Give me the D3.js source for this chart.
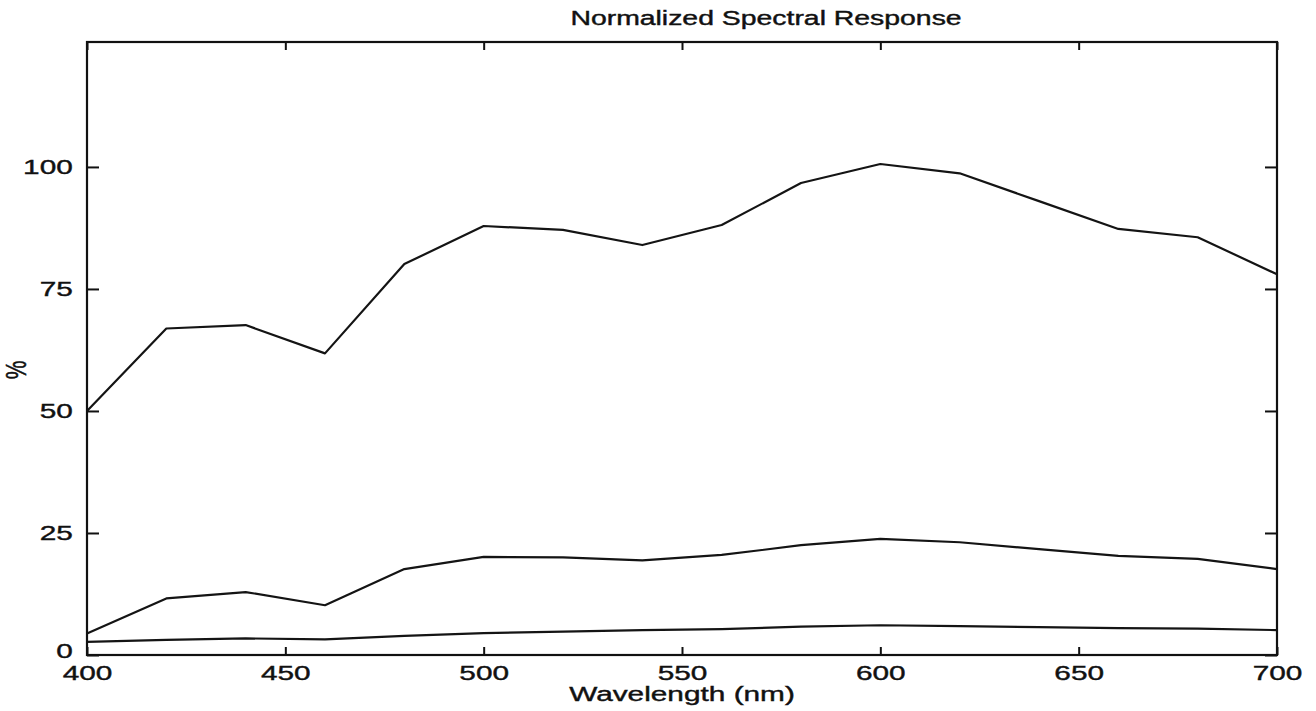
<!DOCTYPE html>
<html lang="en">
<head>
    <meta charset="UTF-8">
    <title>Normalized Spectral Response</title>
    <script src="https://d3js.org/d3.v7.min.js"></script>
    <style>
        body { margin: 0; background: #fff; }
        text {
            font-family: "Liberation Sans", Arial, Helvetica, sans-serif;
            fill: #111;
            stroke: #111;
            stroke-width: 0.4px;
        }
        .line {
            fill: none;
            stroke: #141414;
            stroke-width: 2.2;
            stroke-linejoin: round;
        }
        .tick line { stroke: #111; stroke-width: 2; }
    </style>
</head>
<body>
<script>
    // data (wavelength in nm, response in %)
    var wavelengths = [400, 420, 440, 460, 480, 500, 520, 540, 560, 580, 600, 620, 640, 660, 680, 700];
    var responseHigh = [50.0, 66.9, 67.6, 61.8, 80.1, 87.9, 87.1, 84.0, 88.1, 96.7, 100.6, 98.7, 93.0, 87.3, 85.6, 78.0];
    var responseMid = [4.4, 11.6, 12.9, 10.2, 17.6, 20.1, 20.0, 19.4, 20.5, 22.5, 23.8, 23.1, 21.7, 20.3, 19.7, 17.6];
    var responseLow = [2.7, 3.1, 3.4, 3.2, 3.9, 4.5, 4.8, 5.1, 5.3, 5.8, 6.1, 5.9, 5.7, 5.5, 5.4, 5.1];
    var xTicks = [400, 450, 500, 550, 600, 650, 700];
    var yTicks = [0, 25, 50, 75, 100];

    var width = 1316, height = 711;
    var margin = {top: 42, right: 39, bottom: 56, left: 87};
    var stretch = 1.42; // the scan is stretched sideways, text too

    var svg = d3.select("body").append("svg")
        .attr("width", width)
        .attr("height", height);

    var x = d3.scaleLinear()
        .domain([400, 700])
        .range([margin.left, width - margin.right]);

    var y = d3.scaleLinear()
        .domain([0, 125.6])
        .range([height - margin.bottom, margin.top]);

    var line = d3.line()
        .x(function(d) { return x(d[0]); })
        .y(function(d) { return y(d[1]); });

    [responseHigh, responseMid, responseLow].forEach(function(series) {
        svg.append("path")
            .attr("class", "line")
            .attr("d", line(d3.zip(wavelengths, series)));
    });

    // axes: ticks point inward, labels only on left and bottom
    var gBottom = svg.append("g")
        .attr("transform", "translate(0," + y(0) + ")")
        .call(d3.axisBottom(x).tickValues(xTicks).tickSizeInner(-8).tickSizeOuter(0).tickPadding(10));
    var gTop = svg.append("g")
        .attr("transform", "translate(0," + margin.top + ")")
        .call(d3.axisTop(x).tickValues(xTicks).tickSizeInner(-8).tickSizeOuter(0).tickFormat(""));
    var gLeft = svg.append("g")
        .attr("transform", "translate(" + margin.left + ",0)")
        .call(d3.axisLeft(y).tickValues(yTicks).tickSizeInner(-12).tickSizeOuter(0).tickPadding(10));
    var gRight = svg.append("g")
        .attr("transform", "translate(" + (width - margin.right) + ",0)")
        .call(d3.axisRight(y).tickValues(yTicks).tickSizeInner(-12).tickSizeOuter(0).tickFormat(""));

    [gBottom, gTop, gLeft, gRight].forEach(function(g) {
        g.select(".domain").remove();
        g.selectAll("text")
            .attr("font-size", 21)
            .attr("transform", "scale(" + stretch + ",1)");
    });

    // nudge the "0" label up a little so it clears "400"
    gLeft.selectAll("text")
        .filter(function(d) { return d === 0; })
        .attr("dy", "0.1em");

    svg.append("rect")
        .attr("x", margin.left)
        .attr("y", margin.top)
        .attr("width", width - margin.left - margin.right)
        .attr("height", height - margin.top - margin.bottom)
        .attr("fill", "none")
        .attr("stroke", "#111")
        .attr("stroke-width", 2.2);

    var cx = (margin.left + width - margin.right) / 2;

    svg.append("text")
        .attr("text-anchor", "middle")
        .attr("font-size", 20)
        .attr("transform", "translate(" + (cx + 84) + ",25) scale(" + stretch + ",1)")
        .text("Normalized Spectral Response");

    svg.append("text")
        .attr("text-anchor", "middle")
        .attr("font-size", 21)
        .attr("transform", "translate(" + cx + ",701) scale(" + stretch + ",1)")
        .text("Wavelength (nm)");

    svg.append("text")
        .attr("text-anchor", "middle")
        .attr("font-size", 21)
        .attr("transform", "translate(26,370) scale(" + stretch + ",1) rotate(-90)")
        .text("%");
</script>
</body>
</html>
